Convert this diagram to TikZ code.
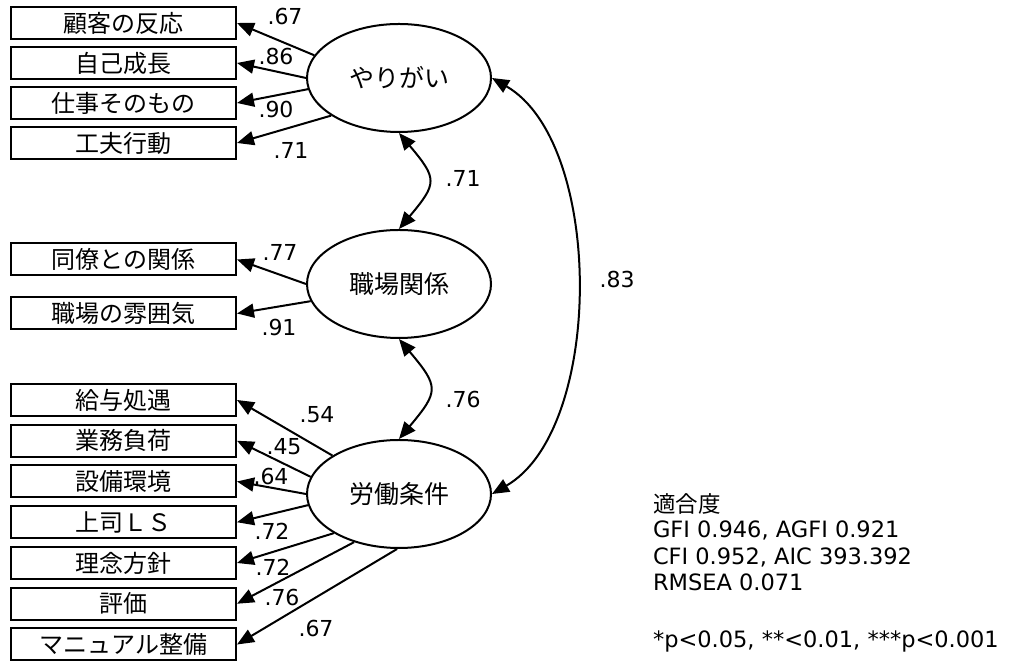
\documentclass[tikz,border=0pt]{standalone}
\usepackage{fontspec}
\setmainfont{DejaVu Sans}
\newfontfamily\jp{Noto Sans CJK JP}
\usetikzlibrary{shapes.geometric,arrows.meta}

\tikzset{
  obs/.style={draw, minimum width=225pt, minimum height=32pt, inner sep=0pt,
    font=\jp\fontsize{24}{24}\selectfont},
  lat/.style={draw, ellipse, minimum width=184pt, minimum height=108pt, inner sep=0pt,
    font=\jp\fontsize{25}{25}\selectfont},
  coef/.style={inner sep=0pt, font=\fontsize{22}{22}\selectfont},
  fitline/.style={anchor=base west, inner sep=0pt, font=\fontsize{22.5}{22.5}\selectfont},
}

\begin{document}
\begin{tikzpicture}[x=1pt, y=1pt, line width=2pt, >={Triangle[length=17pt,width=14pt]}]
  \useasboundingbox (0,0) rectangle (1020,663);

  % --- yarigai ---
  \node[lat] (yari) at (399,585) {やりがい};
  \node[obs] (y1) at (123.5,640) {顧客の反応};
  \node[obs] (y2) at (123.5,600) {自己成長};
  \node[obs] (y3) at (123.5,560) {仕事そのもの};
  \node[obs] (y4) at (123.5,520) {工夫行動};

  \draw[->] (yari.165) -- (y1.east) node[coef] (ly1) at (285,646) {.67};
  \draw[->] (yari.180) -- (y2.east) node[coef] (ly2) at (276,606) {.86};
  \draw[->] (yari.187) -- (y3.east) node[coef] (ly3) at (276,553) {.90};
  \draw[->] (yari.209) -- (y4.east) node[coef] (ly4) at (291,513) {.71};

  % --- shokuba kankei ---
  \node[lat] (shok) at (399,379) {職場関係};
  \node[obs] (s1) at (123.5,403.5) {同僚との関係};
  \node[obs] (s2) at (123.5,349.5) {職場の雰囲気};

  \draw[->] (shok.180) -- (s1.east) node[coef] (ls1) at (280,411) {.77};
  \draw[->] (shok.191) -- (s2.east) node[coef] (ls2) at (279,336) {.91};

  % --- roudou jouken ---
  \node[lat] (roud) at (399,169) {労働条件};
  \node[obs] (r1) at (123.5,263) {給与処遇};
  \node[obs] (r2) at (123.5,222.25) {業務負荷};
  \node[obs] (r3) at (123.5,181.5) {設備環境};
  \node[obs] (r4) at (123.5,140.75) {上司ＬＳ};
  \node[obs] (r5) at (123.5,100) {理念方針};
  \node[obs] (r6) at (123.5,59.25) {評価};
  \node[obs] (r7) at (123.5,18.5) {マニュアル整備};

  \draw[->] (roud.150) -- (r1.east) node[coef] (lr1) at (317,248) {.54};
  \draw[->] (roud.169) -- (r2.east) node[coef] (lr2) at (284,216) {.45};
  \draw[->] (roud.180) -- (r3.east) node[coef] (lr3) at (271,187) {.64};
  \draw[->] (roud.187) -- (r4.east) node[coef] (lr4) at (272,132) {.72};
  \draw[->] (roud.211) -- (r5.east) node[coef] (lr5) at (273,96) {.72};
  \draw[->] (roud.227) -- (r6.east) node[coef] (lr6) at (282,66) {.76};
  \draw[->] (roud.268) -- (r7.east) node[coef] (lr7) at (316,35) {.67};

  % --- covariances ---
  \draw[<->] (yari.south) to[out=-50, in=50, looseness=1.6] (shok.north)
    node[coef] (cv1) at (463,485) {.71};
  \draw[<->] (shok.south) to[out=-50, in=50, looseness=1.6] (roud.north)
    node[coef] (cv2) at (463,264) {.76};
  \draw[<->] (yari.east) to[out=-30, in=30, looseness=0.8] (roud.east)
    node[coef] (cv3) at (617,383) {.83};

  % --- fit indices ---
  \node[fitline] (f0) at (652,150) {\jp 適合度};
  \node[fitline] (f1) at (652,125) {GFI 0.946, AGFI 0.921};
  \node[fitline] (f2) at (652,98) {CFI 0.952, AIC 393.392};
  \node[fitline] (f3) at (652,72) {RMSEA 0.071};
  \node[fitline] (f4) at (652,15) {*p<0.05, **<0.01, ***p<0.001};

\end{tikzpicture}
\end{document}
